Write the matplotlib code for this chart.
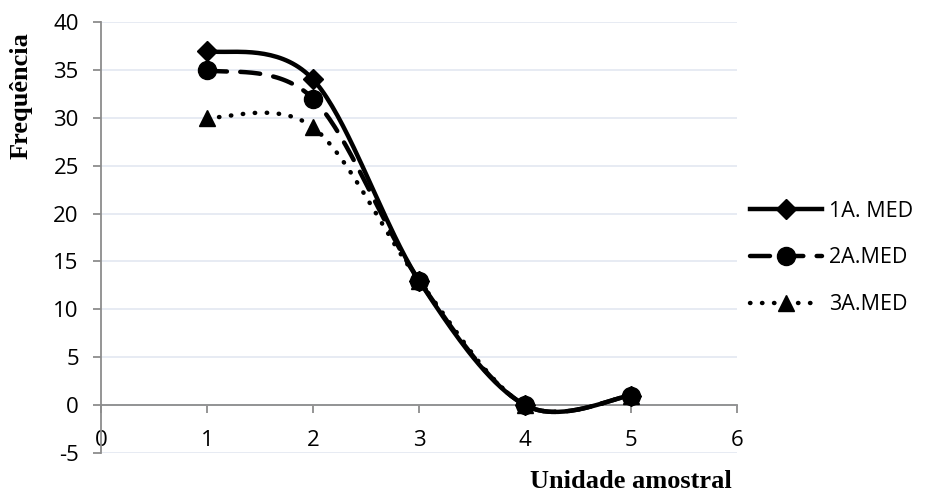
import numpy as np
import matplotlib
matplotlib.use('Agg')
import matplotlib.pyplot as plt
from matplotlib.lines import Line2D

plt.rcParams['axes.unicode_minus'] = False

# sample units and frequencies per group
units = [1, 2, 3, 4, 5]
freq_1a = [37, 34, 13, 0, 1]
freq_2a = [35, 32, 13, 0, 1]
freq_3a = [30, 29, 13, 0, 1]
names = ['1A. MED', '2A.MED', '3A.MED']

x_ticks = [0, 1, 2, 3, 4, 5, 6]
y_ticks = [-5, 0, 5, 10, 15, 20, 25, 30, 35, 40]


def smooth(xs, ys, n=40):
	# spreadsheet style smoothing: cubic bezier between points, tangent = (next - prev) / 6
	p = np.column_stack([xs, ys]).astype(float)
	out = []
	for i in range(len(p) - 1):
		p0 = p[i - 1] if i > 0 else p[i]
		p1 = p[i]
		p2 = p[i + 1]
		p3 = p[i + 2] if i + 2 < len(p) else p[i + 1]
		c1 = p1 + (p2 - p0) / 6.
		c2 = p2 - (p3 - p1) / 6.
		t = np.linspace(0, 1, n)[:, None]
		seg = (1 - t) ** 3 * p1 + 3 * (1 - t) ** 2 * t * c1 + 3 * (1 - t) * t ** 2 * c2 + t ** 3 * p2
		out.append(seg if i == 0 else seg[1:])
	seg = np.vstack(out)
	return seg[:, 0], seg[:, 1]


fig = plt.figure(figsize=(9.25, 4.94), dpi=100)
ax = fig.add_axes([0.1092, 0.083, 0.6876, 0.8725])

tick_font = 'Open Sans'
axis_grey = '#8c8c8c'

styles = [
	dict(ys=freq_1a, ls='-', marker='D', ms=10),
	dict(ys=freq_2a, ls=(0, (4.5, 3)), marker='o', ms=13),
	dict(ys=freq_3a, ls=(0, (0.1, 2.6)), marker='^', ms=12),
]

handles = []
for name, st in zip(names, styles):
	sx, sy = smooth(units, st['ys'])
	ax.plot(sx, sy, color='black', lw=3.2, linestyle=st['ls'], dash_capstyle='round', zorder=3)
	ax.plot(units, st['ys'], linestyle='none', marker=st['marker'], ms=st['ms'], color='black', zorder=4)
	handles.append(Line2D([], [], color='black', lw=3.2, linestyle=st['ls'], dash_capstyle='round',
		marker=st['marker'], ms=st['ms'], label=name))

ax.set_xlim(0, 6)
ax.set_ylim(-5, 40)
ax.set_xticks(x_ticks)
ax.set_yticks(y_ticks)
ax.yaxis.grid(True, color='#e3e8f1', lw=1.2)
ax.set_axisbelow(True)

for s in ['top', 'right']:
	ax.spines[s].set_visible(False)
ax.spines['bottom'].set_position(('data', 0))
ax.spines['bottom'].set_color(axis_grey)
ax.spines['left'].set_color(axis_grey)
ax.spines['bottom'].set_linewidth(1.3)
ax.spines['left'].set_linewidth(1.3)

ax.tick_params(axis='x', direction='out', length=6, width=1.3, color=axis_grey, pad=12)
ax.tick_params(axis='y', direction='out', length=6, width=1.3, color=axis_grey, pad=10)
for lab in ax.get_xticklabels() + ax.get_yticklabels():
	lab.set_fontfamily(tick_font)
	lab.set_fontsize(16)

fig.text(0.682, 0.012, 'Unidade amostral', family='Liberation Serif', weight='bold', fontsize=19,
	ha='center', va='baseline')
fig.text(0.023, 0.806, 'Frequência', family='Liberation Serif', weight='bold', fontsize=19,
	rotation=90, ha='center', va='center')

leg = fig.legend(handles=handles, loc='center left', bbox_to_anchor=(0.811, 0.478), frameon=False,
	borderaxespad=0, borderpad=0,
	handlelength=3.35, labelspacing=1.2, handletextpad=0.3,
	prop={'family': tick_font, 'size': 15.5})

fig.savefig('out.png', dpi=100)
